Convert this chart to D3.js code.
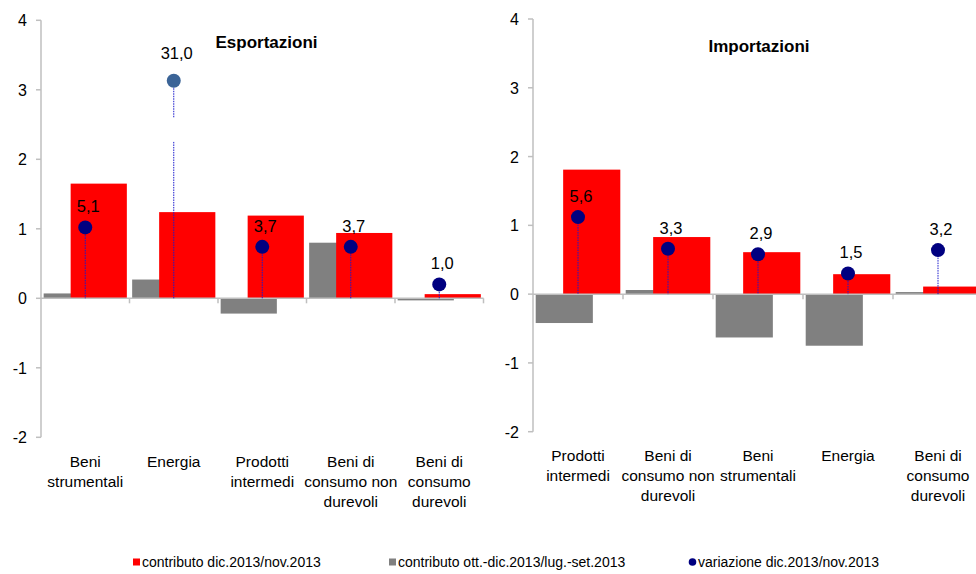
<!DOCTYPE html>
<html>
<head>
<meta charset="utf-8">
<script src="https://cdn.jsdelivr.net/npm/d3@7"></script>
<style>
  body { margin: 0; background: #fff; }
  svg { display: block; font-family: "Liberation Sans Narrow", "Arial Narrow", "Liberation Sans", sans-serif; }
</style>
</head>
<body>
<div id="chart"></div>
<script>
// Esportazioni
const expCategories = [["Beni", "strumentali"], ["Energia"], ["Prodotti", "intermedi"], ["Beni di", "consumo non", "durevoli"], ["Beni di", "consumo", "durevoli"]];
const expMonthly = [1.65, 1.24, 1.19, 0.94, 0.06];      // contributo dic.2013/nov.2013
const expQuarterly = [0.07, 0.27, -0.22, 0.80, -0.03];  // contributo ott.-dic.2013/lug.-set.2013
const expVariation = [5.1, 31.0, 3.7, 3.7, 1.0];        // variazione dic.2013/nov.2013

// Importazioni
const impCategories = [["Prodotti", "intermedi"], ["Beni di", "consumo non", "durevoli"], ["Beni", "strumentali"], ["Energia"], ["Beni di", "consumo", "durevoli"]];
const impMonthly = [1.81, 0.83, 0.61, 0.29, 0.11];
const impQuarterly = [-0.42, 0.06, -0.63, -0.75, 0.03];
const impVariation = [5.6, 3.3, 2.9, 1.5, 3.2];

const yTicks = [-2, -1, 0, 1, 2, 3, 4];
const secondaryDomain = [-10, 20];
const variationCap = 15.65;       // where off-scale points are drawn
const variationBreak = [11.25, 13.0]; // gap in the stem of a capped point

const legendItems = [
  { label: "contributo dic.2013/nov.2013", type: "rect", color: "#ff0000" },
  { label: "contributo ott.-dic.2013/lug.-set.2013", type: "rect", color: "#808080" },
  { label: "variazione dic.2013/nov.2013", type: "circle", color: "#000080" }
];

const width = 976, height = 574;
const fmt = v => d3.format(".1f")(v).replace(".", ",");

const svg = d3.select("#chart").append("svg")
  .attr("width", width)
  .attr("height", height);

function drawPanel(p) {
  const { categories, monthly, quarterly, variation, title, x0, x1, yTop, yBottom, titleX, titleY, labelY } = p;
  const g = svg.append("g");

  const y = d3.scaleLinear().domain([-2, 4]).range([yBottom, yTop]);
  const y2 = d3.scaleLinear().domain(secondaryDomain).range([yBottom, yTop]);
  const x = d3.scaleBand().domain(d3.range(categories.length)).range([x0, x1]).padding(0);
  const bw = x.bandwidth();
  const barW = bw * 0.635;

  // bars: grey behind, red in front, overlapping
  g.selectAll(".q").data(quarterly).join("rect")
    .attr("x", (d, i) => x(i) + bw * 0.03)
    .attr("y", d => y(Math.max(0, d)))
    .attr("width", barW)
    .attr("height", d => Math.abs(y(d) - y(0)))
    .attr("fill", "#808080");
  g.selectAll(".m").data(monthly).join("rect")
    .attr("x", (d, i) => x(i) + bw * 0.97 - barW)
    .attr("y", d => y(Math.max(0, d)))
    .attr("width", barW)
    .attr("height", d => Math.abs(y(d) - y(0)))
    .attr("fill", "#ff0000");

  // axes
  const axisColor = "#bfbfbf";
  g.append("line").attr("x1", x0).attr("x2", x0).attr("y1", yTop).attr("y2", yBottom)
    .attr("stroke", axisColor).attr("stroke-width", 1.5);
  g.selectAll(".yt").data(yTicks).join("line")
    .attr("x1", x0 - 5).attr("x2", x0)
    .attr("y1", d => y(d)).attr("y2", d => y(d))
    .attr("stroke", axisColor).attr("stroke-width", 1.5);
  g.selectAll(".yl").data(yTicks).join("text")
    .attr("x", x0 - 14).attr("y", d => y(d) + 6)
    .attr("text-anchor", "end")
    .attr("font-size", 16)
    .attr("fill", "#000")
    .text(d => d);
  g.append("line").attr("x1", x0).attr("x2", x1).attr("y1", y(0)).attr("y2", y(0))
    .attr("stroke", axisColor).attr("stroke-width", 1.5);
  g.selectAll(".xt").data(d3.range(1, categories.length + 1)).join("line")
    .attr("x1", i => x0 + i * bw).attr("x2", i => x0 + i * bw)
    .attr("y1", y(0)).attr("y2", y(0) + 5)
    .attr("stroke", axisColor).attr("stroke-width", 1.5);

  // category labels
  const cl = g.selectAll(".cl").data(categories).join("text")
    .attr("text-anchor", "middle")
    .attr("font-size", 15.5)
    .attr("fill", "#000");
  cl.each(function(lines, i) {
    d3.select(this).selectAll("tspan").data(lines).join("tspan")
      .attr("x", x(i) + bw / 2)
      .attr("y", (d, j) => labelY + j * 20)
      .text(d => d);
  });

  // variation: dotted stems + dots + labels
  variation.forEach((v, i) => {
    const cx = x(i) + bw / 2;
    const capped = v > variationCap;
    const vy = y2(Math.min(v, variationCap));
    const segs = capped
      ? [[vy, y2(variationBreak[1])], [y2(variationBreak[0]), y(0)]]
      : [[vy, y(0)]];
    segs.forEach(s => {
      g.append("line").attr("x1", cx).attr("x2", cx).attr("y1", s[0]).attr("y2", s[1])
        .attr("stroke", "#1a1acc").attr("stroke-width", 1).attr("stroke-dasharray", "1.5,1");
    });
    g.append("circle").attr("cx", cx).attr("cy", vy).attr("r", 7)
      .attr("fill", capped ? "#3b6497" : "#000080");
    g.append("text")
      .attr("x", cx + 3)
      .attr("y", vy - (capped ? 22 : 15))
      .attr("text-anchor", "middle")
      .attr("font-size", 16.5)
      .attr("fill", "#000")
      .text(fmt(v));
  });

  g.append("text")
    .attr("x", titleX).attr("y", titleY)
    .attr("text-anchor", "middle")
    .attr("font-size", 17)
    .attr("font-weight", "bold")
    .attr("fill", "#000")
    .text(title);
}

drawPanel({
  categories: expCategories, monthly: expMonthly, quarterly: expQuarterly, variation: expVariation,
  title: "Esportazioni", x0: 41, x1: 483.5, yTop: 20.3, yBottom: 437.3,
  titleX: 266.5, titleY: 48, labelY: 467
});
drawPanel({
  categories: impCategories, monthly: impMonthly, quarterly: impQuarterly, variation: impVariation,
  title: "Importazioni", x0: 533, x1: 983, yTop: 19, yBottom: 431.7,
  titleX: 759, titleY: 52, labelY: 461
});

// legend
const legendX = [133, 389, 689];
const lg = svg.append("g").attr("transform", "translate(0,562)");
legendItems.forEach((d, i) => {
  if (d.type === "rect") {
    lg.append("rect").attr("x", legendX[i]).attr("y", -3.5).attr("width", 7).attr("height", 7).attr("fill", d.color);
  } else {
    lg.append("circle").attr("cx", legendX[i] + 3.5).attr("cy", 0).attr("r", 3.8).attr("fill", d.color);
  }
  lg.append("text").attr("x", legendX[i] + 9).attr("y", 5)
    .attr("font-size", 14).attr("fill", "#000").text(d.label);
});
</script>
</body>
</html>
